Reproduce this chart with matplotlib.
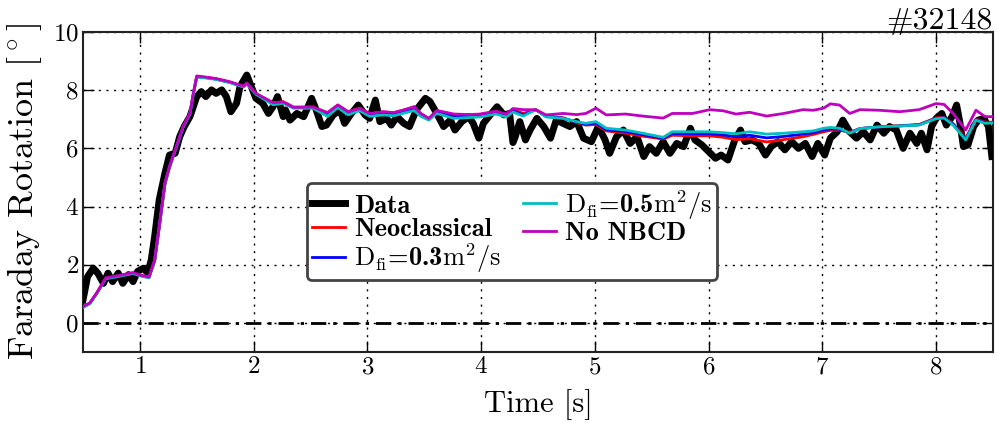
import matplotlib
matplotlib.use("Agg")
import matplotlib.pyplot as plt

plt.rcParams['font.family'] = ['cmr10', 'DejaVu Serif']
plt.rcParams['mathtext.fontset'] = 'cm'
plt.rcParams['axes.formatter.use_mathtext'] = True

# ---- measured data (black) ----
t_data = [0.50, 0.54, 0.59, 0.63, 0.68, 0.72, 0.76, 0.81, 0.85, 0.90, 0.94, 0.98,
          1.03, 1.07, 1.10, 1.13, 1.17, 1.22, 1.26, 1.31, 1.35, 1.39, 1.44, 1.50,
          1.54, 1.58, 1.63, 1.67, 1.72, 1.76, 1.80, 1.85, 1.88, 1.94, 1.98, 2.02,
          2.08, 2.13, 2.17, 2.21, 2.26, 2.28, 2.32, 2.38, 2.44, 2.51, 2.55, 2.60,
          2.64, 2.70, 2.76, 2.80, 2.85, 2.92, 2.98, 3.02, 3.07, 3.11, 3.17, 3.21,
          3.26, 3.32, 3.37, 3.43, 3.51, 3.55, 3.61, 3.67, 3.73, 3.77, 3.83, 3.89,
          3.93, 3.98, 4.02, 4.08, 4.14, 4.20, 4.25, 4.28, 4.30, 4.34, 4.39, 4.43,
          4.49, 4.55, 4.61, 4.66, 4.72, 4.78, 4.84, 4.90, 4.97, 5.03, 5.09, 5.13,
          5.19, 5.25, 5.31, 5.37, 5.43, 5.48, 5.54, 5.60, 5.66, 5.72, 5.78, 5.84,
          5.88, 5.94, 6.00, 6.06, 6.11, 6.17, 6.23, 6.28, 6.32, 6.38, 6.44, 6.50,
          6.55, 6.61, 6.67, 6.73, 6.79, 6.85, 6.91, 6.96, 7.02, 7.07, 7.13, 7.18,
          7.24, 7.30, 7.36, 7.42, 7.48, 7.54, 7.59, 7.65, 7.71, 7.77, 7.83, 7.87,
          7.92, 7.96, 8.00, 8.05, 8.09, 8.14, 8.18, 8.21, 8.24, 8.28, 8.33, 8.37,
          8.42, 8.46, 8.49]
data = [0.79, 1.59, 1.88, 1.71, 1.36, 1.71, 1.42, 1.71, 1.36, 1.66, 1.42, 1.77,
        1.88, 1.71, 2.17, 2.97, 4.23, 5.14, 5.77, 5.83, 6.40, 6.75, 7.09, 7.78,
        7.95, 7.78, 8.01, 7.89, 8.01, 7.78, 7.26, 7.55, 8.12, 8.52, 8.12, 7.72,
        7.55, 7.20, 7.43, 7.78, 7.09, 7.32, 6.97, 7.20, 7.09, 7.72, 7.32, 6.75,
        6.80, 7.15, 7.32, 6.86, 7.15, 7.49, 7.15, 7.03, 7.66, 6.92, 7.03, 6.80,
        7.09, 6.86, 6.75, 7.32, 7.72, 7.61, 7.20, 6.75, 6.97, 6.63, 6.92, 7.09,
        6.86, 6.35, 6.86, 7.15, 7.43, 7.15, 7.20, 6.20, 6.40, 6.92, 6.29, 6.63,
        7.03, 6.75, 6.35, 6.97, 6.86, 6.75, 6.92, 6.35, 6.23, 6.75, 6.29, 5.83,
        6.40, 6.63, 6.17, 6.40, 5.72, 6.06, 5.83, 6.23, 5.83, 6.17, 6.06, 6.69,
        6.29, 6.12, 5.89, 5.66, 5.77, 5.60, 6.29, 6.63, 6.23, 6.29, 6.17, 5.77,
        6.06, 6.23, 5.95, 6.23, 6.00, 6.17, 5.72, 6.17, 5.77, 6.35, 6.57, 6.97,
        6.57, 6.35, 6.57, 6.29, 6.80, 6.52, 6.75, 6.63, 6.00, 6.52, 6.17, 6.52,
        5.95, 6.75, 7.03, 7.20, 6.80, 7.09, 7.49, 6.86, 6.06, 6.12, 6.75, 6.97,
        7.03, 6.75, 5.72]

# ---- simulations ----
t_model = [0.50, 0.56, 0.62, 0.70, 0.79, 0.94, 1.00, 1.08, 1.13, 1.17, 1.22, 1.26,
           1.32, 1.38, 1.44, 1.47, 1.50, 1.58, 1.67, 1.79, 1.91, 1.94, 2.02, 2.17,
           2.26, 2.35, 2.52, 2.65, 2.74, 2.83, 2.93, 3.02, 3.14, 3.23, 3.33, 3.41,
           3.47, 3.54, 3.61, 3.76, 3.90, 3.99, 4.13, 4.22, 4.28, 4.37, 4.48, 4.57,
           4.72, 4.84, 4.92, 5.01, 5.10, 5.27, 5.42, 5.60, 5.68, 5.86, 6.01, 6.13,
           6.24, 6.36, 6.51, 6.66, 6.83, 6.92, 7.01, 7.07, 7.15, 7.24, 7.33, 7.50,
           7.68, 7.85, 8.00, 8.07, 8.15, 8.26, 8.35, 8.43, 8.50]
neoclassical = [0.55, 0.68, 1.02, 1.54, 1.60, 1.72, 1.64, 1.57, 2.15, 3.30, 4.79, 5.36,
                6.05, 6.74, 7.19, 7.88, 8.47, 8.44, 8.39, 8.28, 8.13, 8.23, 7.88, 7.57,
                7.60, 7.42, 7.42, 7.22, 7.49, 7.26, 7.38, 7.19, 7.25, 7.22, 7.33, 7.43,
                7.19, 7.02, 7.29, 7.16, 7.14, 7.16, 7.26, 7.15, 7.33, 7.20, 7.33, 7.12,
                7.05, 6.88, 6.80, 6.82, 6.60, 6.52, 6.42, 6.32, 6.45, 6.43, 6.43, 6.38,
                6.30, 6.33, 6.22, 6.30, 6.40, 6.48, 6.57, 6.62, 6.63, 6.55, 6.68, 6.74,
                6.78, 6.82, 7.05, 7.06, 6.85, 6.35, 7.00, 6.90, 6.90]
dfi_03 = [0.54, 0.67, 1.01, 1.53, 1.59, 1.71, 1.63, 1.56, 2.14, 3.29, 4.78, 5.35,
          6.04, 6.73, 7.18, 7.87, 8.46, 8.43, 8.38, 8.27, 8.12, 8.22, 7.87, 7.54,
          7.58, 7.40, 7.40, 7.17, 7.45, 7.21, 7.34, 7.15, 7.20, 7.17, 7.28, 7.37,
          7.15, 7.00, 7.25, 7.10, 7.11, 7.12, 7.22, 7.12, 7.29, 7.15, 7.33, 7.10,
          7.04, 6.90, 6.83, 6.87, 6.64, 6.58, 6.47, 6.35, 6.51, 6.50, 6.50, 6.46,
          6.40, 6.45, 6.36, 6.41, 6.49, 6.54, 6.63, 6.67, 6.66, 6.53, 6.68, 6.74,
          6.77, 6.81, 7.03, 7.05, 6.82, 6.32, 6.98, 6.88, 6.89]
dfi_05 = [0.53, 0.66, 1.00, 1.52, 1.58, 1.70, 1.62, 1.55, 2.13, 3.28, 4.77, 5.34,
          6.03, 6.72, 7.17, 7.86, 8.45, 8.42, 8.37, 8.26, 8.11, 8.21, 7.86, 7.50,
          7.55, 7.38, 7.38, 7.10, 7.40, 7.15, 7.30, 7.10, 7.15, 7.12, 7.22, 7.30,
          7.10, 6.97, 7.20, 7.03, 7.06, 7.08, 7.18, 7.08, 7.25, 7.11, 7.33, 7.08,
          7.03, 6.92, 6.86, 6.92, 6.69, 6.63, 6.52, 6.38, 6.57, 6.57, 6.57, 6.54,
          6.50, 6.57, 6.49, 6.52, 6.57, 6.60, 6.69, 6.72, 6.69, 6.52, 6.68, 6.74,
          6.77, 6.80, 7.02, 7.04, 6.80, 6.29, 6.97, 6.86, 6.88]
no_nbcd = [0.56, 0.69, 1.03, 1.55, 1.61, 1.73, 1.65, 1.58, 2.16, 3.31, 4.80, 5.37,
           6.06, 6.75, 7.20, 7.90, 8.49, 8.45, 8.40, 8.29, 8.14, 8.25, 7.89, 7.57,
           7.60, 7.41, 7.42, 7.23, 7.49, 7.26, 7.37, 7.20, 7.26, 7.23, 7.33, 7.43,
           7.20, 7.03, 7.30, 7.18, 7.16, 7.18, 7.28, 7.18, 7.37, 7.33, 7.33, 7.15,
           7.20, 7.16, 7.20, 7.38, 7.15, 7.18, 7.11, 7.04, 7.20, 7.20, 7.33, 7.29,
           7.18, 7.24, 7.11, 7.20, 7.33, 7.31, 7.38, 7.53, 7.49, 7.20, 7.33, 7.31,
           7.26, 7.33, 7.54, 7.51, 7.20, 6.63, 7.31, 7.09, 7.09]

labels = ['Data', 'Neoclassical', r'$\mathrm{D_{fi}}$=0.3$\mathrm{m^2/s}$',
          r'$\mathrm{D_{fi}}$=0.5$\mathrm{m^2/s}$', 'No NBCD']
colors = ['black', '#ff0000', '#0000ff', '#00bfbf', '#bf00bf']

fig = plt.figure(figsize=(9.98, 4.23), dpi=100)
ax = fig.add_axes([83/998, 1-352/423, 910/998, 320/423])

ax.axhline(0, color='black', lw=2, ls='-.', dashes=(5.5, 2.5, 1.2, 2.5), zorder=2)
ax.plot(t_data, data, color=colors[0], lw=5, label=labels[0], zorder=3)
ax.plot(t_model, neoclassical, color=colors[1], lw=2, label=labels[1], zorder=4)
ax.plot(t_model, dfi_03, color=colors[2], lw=2, label=labels[2], zorder=4)
ax.plot(t_model, dfi_05, color=colors[3], lw=2, label=labels[3], zorder=4)
ax.plot(t_model, no_nbcd, color=colors[4], lw=2, label=labels[4], zorder=5)

ax.set_xlim(0.5, 8.5)
ax.set_ylim(-1, 10)
ax.set_xticks([1, 2, 3, 4, 5, 6, 7, 8])
ax.set_yticks([0, 2, 4, 6, 8, 10])
ax.grid(True, color='black', ls=(0, (1.5, 4)), lw=1)
ax.tick_params(direction='in', top=True, right=True, length=8, width=1,
               labelsize=18, pad=3)
for s in ax.spines.values():
    s.set_linewidth(1.5)
    s.set_color('#222222')

ax.set_xlabel('Time [s]', fontsize=22, labelpad=8)
ax.set_ylabel(r'Faraday Rotation [$^\circ$]', fontsize=26, labelpad=6)
ax.set_title('#32148', loc='right', fontsize=23, pad=2)

leg = ax.legend(ncol=2, loc='upper left', bbox_to_anchor=(0.246, 0.528),
                borderaxespad=0, prop={'family': ['cmb10'], 'size': 19},
                frameon=True, fancybox=True,
                handlelength=1.25, handletextpad=0.35, columnspacing=0.85,
                labelspacing=0.0, borderpad=0.18)
leg.get_frame().set_edgecolor('#444444')
leg.get_frame().set_linewidth(2)
leg.get_frame().set_alpha(1)

fig.savefig('out.png', dpi=100)
